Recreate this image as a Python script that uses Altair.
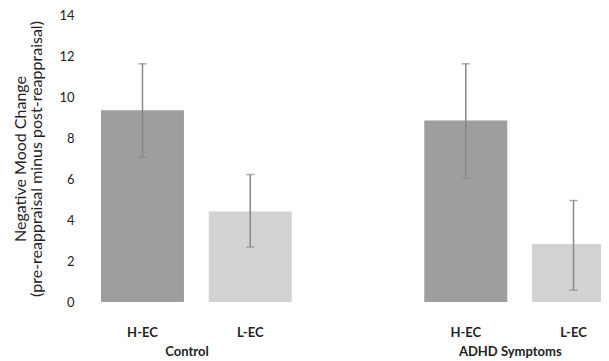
import altair as alt
import pandas as pd

groups = ["Control", "Control", "ADHD Symptoms", "ADHD Symptoms"]
levels = ["H-EC", "L-EC", "H-EC", "L-EC"]
means = [9.35, 4.42, 8.85, 2.83]
upper = [11.62, 6.22, 11.62, 4.95]
lower = [7.05, 2.68, 6.05, 0.58]
group_labels = ["Control", "ADHD Symptoms"]
y_ticks = [0, 2, 4, 6, 8, 10, 12, 14]

keys = ["C H-EC", "C L-EC", "A H-EC", "A L-EC"]
domain = ["C H-EC", "C L-EC", "gap", "A H-EC", "A L-EC"]

df = pd.DataFrame({"key": keys, "group": groups, "level": levels,
                   "mean": means, "upper": upper, "lower": lower})
gdf = pd.DataFrame({"key": ["C H-EC", "A H-EC"], "label": group_labels})

FONT = "Lato"
H = 287

xscale = alt.Scale(domain=domain, range=[0, 514], paddingInner=0.23, paddingOuter=0)
xenc = alt.X("key:N", scale=xscale, sort=domain, title=None,
             axis=alt.Axis(labelExpr="datum.value == 'gap' ? '' : slice(datum.value, 2)",
                           labelFont=FONT, labelFontWeight="bold", labelFontSize=13,
                           labelColor="#222", labelPadding=24, labelAngle=0,
                           domain=False, ticks=False))
yscale = alt.Scale(domain=[0, 14], nice=False)

bars = alt.Chart(df).mark_bar().encode(
    x=xenc,
    y=alt.Y("mean:Q", scale=yscale,
            title=["Negative Mood Change", "(pre-reappraisal minus post-reappraisal)"],
            axis=alt.Axis(values=y_ticks, grid=False, domain=False, ticks=False,
                          labelFont=FONT, labelFontSize=13, labelColor="#222",
                          labelPadding=27, titleFont=FONT, titleFontSize=16,
                          titleFontWeight="normal", titleColor="#222",
                          titlePadding=14, titleLineHeight=16)),
    color=alt.Color("level:N", scale=alt.Scale(domain=["H-EC", "L-EC"],
                                               range=["#9e9e9e", "#d1d3d2"]),
                    legend=None),
)

err = alt.Chart(df).mark_rule(color="#888888", strokeWidth=1.5).encode(
    x=alt.X("key:N", scale=xscale, sort=domain),
    y=alt.Y("upper:Q", scale=yscale),
    y2="lower:Q",
)
cap_top = alt.Chart(df).mark_tick(color="#888888", thickness=1.5, size=8).encode(
    x=alt.X("key:N", scale=xscale, sort=domain),
    y=alt.Y("upper:Q", scale=yscale),
)
cap_bot = alt.Chart(df).mark_tick(color="#888888", thickness=1.5, size=8).encode(
    x=alt.X("key:N", scale=xscale, sort=domain),
    y=alt.Y("lower:Q", scale=yscale),
)

glabels = alt.Chart(gdf).mark_text(font=FONT, fontWeight="bold", fontSize=13,
                                   color="#222", dx=44.5, baseline="middle").encode(
    x=alt.X("key:N", scale=xscale, sort=domain),
    y=alt.value(H + 50),
    text="label:N",
)

chart = alt.layer(bars, err, cap_top, cap_bot, glabels).properties(
    width=500, height=H,
    autosize=alt.AutoSizeParams(type="none"),
    padding={"left": 93, "top": 7, "right": 0, "bottom": 57},
).configure_view(stroke=None)

chart.save("out.html", embed_options={"renderer": "svg", "actions": False})
